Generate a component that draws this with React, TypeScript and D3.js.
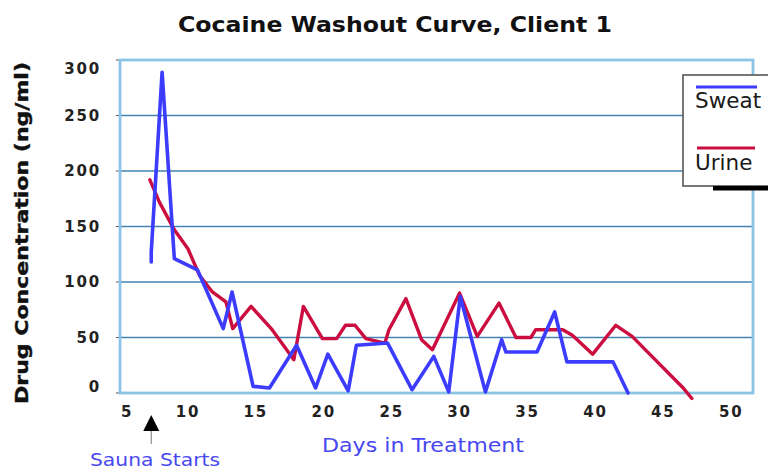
import React from "react";
import * as d3 from "d3";

const sweatDays = [7.3, 7.3, 8.1, 9.0, 10.7, 12.6, 13.25, 14.8, 16.0, 18.0, 19.4, 20.3, 21.8, 22.4, 24.7, 26.5, 28.1, 29.2, 30.05, 31.9, 33.1, 33.4, 35.7, 37.0, 37.9, 41.3, 42.4];
const sweatValues = [118, 127, 289, 121, 111, 58, 91, 6, 4.5, 43, 4.5, 35, 2, 43, 45, 3, 33, 1, 87, 1, 48, 37, 37, 73, 28, 28, 0];

const urineDays = [7.2, 7.9, 9.0, 10.0, 10.85, 11.8, 12.8, 13.3, 14.65, 16.2, 17.8, 18.5, 19.9, 20.95, 21.6, 22.3, 23.1, 24.5, 24.8, 26.05, 27.2, 28.0, 30.0, 31.3, 32.9, 34.15, 35.25, 35.6, 37.6, 38.3, 39.8, 41.5, 42.7, 46.5, 47.1];
const urineValues = [192, 172, 147, 130, 106, 91, 82, 58, 78, 57, 30, 78, 49, 49, 61, 61, 49, 45, 57, 85, 48, 39, 90, 51, 81, 50, 50, 57, 57, 52, 35, 61, 51, 4, -5];

const xTicks = [5, 10, 15, 20, 25, 30, 35, 40, 45, 50];
const yTicks = [0, 50, 100, 150, 200, 250, 300];

const seriesNames = ["Sweat", "Urine"];
const title = "Cocaine Washout Curve, Client 1";
const yTitle = "Drug Concentration (ng/ml)";
const xTitle = "Days in Treatment";
const annotation = "Sauna Starts";
const saunaDay = 7.3;

const BLUE = "#3c3cff";
const RED = "#cc0d40";
const TEXT_BLUE = "#4848f2";

export default function App() {
  const x = d3.scaleLinear().domain([5, 51.6]).range([120, 753]);
  const y = d3.scaleLinear().domain([0, 300]).range([393, 60]);
  const [x0, x1] = x.range();
  const [yb, yt] = y.range();

  const line = d3
    .line<[number, number]>()
    .x((d) => x(d[0]))
    .y((d) => y(d[1]));

  const sweat = sweatDays.map((d, i) => [d, sweatValues[i]] as [number, number]);
  const urine = urineDays.map((d, i) => [d, urineValues[i]] as [number, number]);

  const lx = 683;
  const ly = 75;
  const sx = x(saunaDay);

  return (
    <svg width={768} height={469} style={{ display: "block", position: "absolute", left: 0, top: 0 }}>
      <rect x={0} y={0} width={768} height={469} fill="#fff" />
      <text x={395} y={32} textAnchor="middle" fontFamily="DejaVu Sans" fontWeight="bold" fontSize={20.5} textLength={434} lengthAdjust="spacingAndGlyphs" fill="#111">
        {title}
      </text>

      {/* gridlines */}
      {yTicks.filter((v) => v > 0 && v < 300).map((v) => (
        <line key={v} x1={x0} x2={x1} y1={y(v)} y2={y(v)} stroke="#4583b5" strokeWidth={1.7} />
      ))}
      {/* small ticks */}
      {yTicks.map((v) => (
        <line key={"t" + v} x1={x0 - 4} x2={x0} y1={y(v)} y2={y(v)} stroke="#555" strokeWidth={1} />
      ))}
      {/* plot border */}
      <rect x={x0} y={yt} width={x1 - x0} height={yb - yt} fill="none" stroke="#8cc4e6" strokeWidth={2.8} />

      {/* y tick labels */}
      {yTicks.map((v) => (
        <text key={"yl" + v} x={101} y={Math.min(Math.max(y(v), yt + 9), yb - 6)} dy="0.36em" textAnchor="end" fontFamily="DejaVu Sans" fontWeight="bold" fontSize={15} letterSpacing={1.8} fill="#222">
          {v}
        </text>
      ))}
      {/* x tick labels */}
      {xTicks.map((d) => (
        <text key={"xl" + d} x={Math.max(x(d), x0 + 7)} y={417} textAnchor="middle" fontFamily="DejaVu Sans" fontWeight="bold" fontSize={15} letterSpacing={1.8} fill="#222">
          {d}
        </text>
      ))}

      {/* series */}
      <path d={line(urine) || ""} fill="none" stroke={RED} strokeWidth={3.4} strokeLinejoin="round" strokeLinecap="round" />
      <path d={line(sweat) || ""} fill="none" stroke={BLUE} strokeWidth={3.6} strokeLinejoin="round" strokeLinecap="round" />

      {/* legend */}
      <rect x={lx} y={ly} width={110} height={111} fill="#fff" stroke="#555" strokeWidth={1.6} />
      <rect x={lx + 30} y={ly + 111} width={80} height={4.5} fill="#000" />
      <line x1={lx + 13} x2={lx + 74} y1={ly + 12} y2={ly + 12} stroke={BLUE} strokeWidth={3} />
      <text x={lx + 12} y={ly + 33} fontFamily="DejaVu Sans" fontSize={21.5} fill="#1a1a1a">{seriesNames[0]}</text>
      <line x1={lx + 14} x2={lx + 72} y1={ly + 73} y2={ly + 73} stroke={RED} strokeWidth={3} />
      <text x={lx + 12} y={ly + 95} fontFamily="DejaVu Sans" fontSize={21.5} fill="#1a1a1a">{seriesNames[1]}</text>

      {/* axis titles */}
      <text transform={`translate(28,233) rotate(-90)`} textAnchor="middle" fontFamily="DejaVu Sans" fontWeight="bold" fontSize={18} textLength={342} lengthAdjust="spacingAndGlyphs" fill="#111" stroke="#111" strokeWidth={0.4}>
        {yTitle}
      </text>
      <text x={423} y={452} textAnchor="middle" fontFamily="DejaVu Sans" fontSize={20} textLength={202} lengthAdjust="spacingAndGlyphs" fill={TEXT_BLUE}>
        {xTitle}
      </text>

      {/* sauna annotation */}
      <path d={`M${sx},415 L${sx - 8},431 L${sx + 8},431 Z`} fill="#000" />
      <line x1={sx} x2={sx} y1={431} y2={444} stroke="#777" strokeWidth={1} />
      <text x={155} y={466} textAnchor="middle" fontFamily="DejaVu Sans" fontSize={17} textLength={130} lengthAdjust="spacingAndGlyphs" fill={TEXT_BLUE}>
        {annotation}
      </text>
    </svg>
  );
}
